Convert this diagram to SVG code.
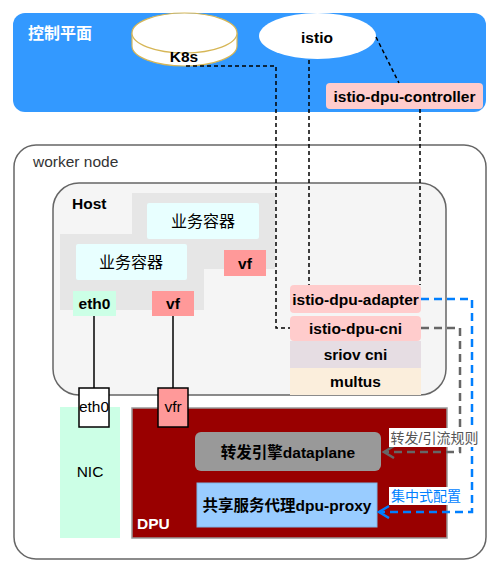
<svg xmlns="http://www.w3.org/2000/svg" width="500" height="573" viewBox="0 0 500 573">
<style>
text{font-family:"Liberation Sans","Noto Sans CJK SC",Arial,sans-serif;font-size:15.5px;text-anchor:middle;dominant-baseline:central;fill:#000}
.b{font-weight:bold}
.blk{fill:none;stroke:#000;stroke-width:1.5;stroke-dasharray:4 3}
.pink{fill:#FFCCCC}
.vf{fill:#FF9999}
</style>
<defs>
<marker id="ag" markerUnits="userSpaceOnUse" markerWidth="14" markerHeight="16" refX="11" refY="7" orient="auto" viewBox="0 0 14 16">
<path d="M1,1 L11,7 L1,13" fill="none" stroke="#666" stroke-width="2.5"/>
</marker>
<marker id="ab" markerUnits="userSpaceOnUse" markerWidth="14" markerHeight="16" refX="11" refY="7" orient="auto" viewBox="0 0 14 16">
<path d="M1,1 L11,7 L1,13" fill="none" stroke="#007FFF" stroke-width="2.5"/>
</marker>
</defs>
<rect width="500" height="573" fill="#fff"/>

<g id="control-plane">
<rect x="13" y="13" width="473" height="99" rx="12" fill="#3399FF"/>
<text x="28" y="33" class="b" style="text-anchor:start;fill:#fff;font-size:16px">控制平面</text>
</g>

<g id="worker-node">
<rect x="14" y="145" width="472" height="414" rx="22" fill="#fff" stroke="#666" stroke-width="1.5"/>
<text x="33" y="161" style="text-anchor:start;fill:#333">worker node</text>
</g>

<g id="host">
<rect x="53" y="183" width="393" height="212" rx="26" fill="#F5F5F5" stroke="#666" stroke-width="1.5"/>
<text x="72" y="203" class="b" style="text-anchor:start">Host</text>
</g>

<g id="pod-back">
<rect x="132" y="193" width="143" height="76" fill="#E6E6E6"/>
<rect x="60" y="234" width="144" height="76" fill="#E6E6E6"/>
</g>

<g id="container-1">
<rect x="147" y="203" width="112" height="36" rx="2" fill="#E8FFFF"/>
<text x="203" y="221" style="font-size:16px">业务容器</text>
</g>
<g id="container-2">
<rect x="76" y="244" width="111" height="36" rx="2" fill="#E8FFFF"/>
<text x="131" y="262" style="font-size:16px">业务容器</text>
</g>
<g id="vf-1">
<rect x="224" y="250" width="42" height="26" class="vf"/>
<text x="245" y="263" class="b">vf</text>
</g>
<g id="eth0-host">
<rect x="73" y="291" width="43" height="25" fill="#CCFFE6"/>
<text x="94.5" y="303.5" class="b">eth0</text>
</g>
<g id="vf-2">
<rect x="152" y="291" width="42" height="25" class="vf"/>
<text x="173" y="303.5" class="b">vf</text>
</g>

<g id="istio-dpu-adapter">
<rect x="290" y="285" width="131" height="28" rx="4" class="pink"/>
<text x="355.5" y="299" class="b">istio-dpu-adapter</text>
</g>
<g id="istio-dpu-cni">
<rect x="290" y="316" width="131" height="25" rx="4" class="pink"/>
<text x="355.5" y="328.5" class="b">istio-dpu-cni</text>
</g>
<g id="sriov-cni">
<rect x="290" y="341" width="131" height="27" fill="#E6DDE3"/>
<text x="355.5" y="354.5" class="b">sriov cni</text>
</g>
<g id="multus">
<rect x="290" y="368" width="131" height="27" fill="#FBEEDC"/>
<text x="355.5" y="381" class="b">multus</text>
</g>

<g id="nic">
<rect x="60" y="407" width="60" height="131" fill="#CCFFE6"/>
<text x="90" y="471">NIC</text>
</g>
<g id="dpu">
<rect x="132" y="408" width="315" height="130" fill="#990000" stroke="#999" stroke-width="1.5"/>
<text x="137" y="523" class="b" style="text-anchor:start;fill:#fff">DPU</text>
</g>
<g id="eth0-nic">
<rect x="79" y="388" width="30" height="39" fill="#fff" stroke="#000" stroke-width="1.5"/>
<text x="94" y="406">eth0</text>
</g>
<g id="vfr">
<rect x="158" y="388" width="30" height="39" class="vf" stroke="#000" stroke-width="1.5"/>
<text x="173" y="406">vfr</text>
</g>
<g id="dataplane">
<rect x="195" y="432" width="186" height="39" rx="6" fill="#999999"/>
<text x="288" y="452" class="b">转发引擎dataplane</text>
</g>
<g id="dpu-proxy">
<rect x="197" y="483" width="180" height="44" fill="#99CCFF" stroke="#7EB6E6" stroke-width="1"/>
<text x="287" y="505" class="b">共享服务代理dpu-proxy</text>
</g>

<g id="k8s">
<path d="M132,33 V46 A52.5,20 0 0 0 237,46 V33" fill="#fff" stroke="#D6B656" stroke-width="1.2"/>
<ellipse cx="184.5" cy="33" rx="52.5" ry="20" fill="#fff" stroke="#D6B656" stroke-width="1.2"/>
<text x="184" y="56" class="b">K8s</text>
</g>
<g id="istio">
<ellipse cx="317.5" cy="36" rx="58.5" ry="23" fill="#fff"/>
<text x="317" y="37" class="b">istio</text>
</g>
<g id="istio-dpu-controller">
<rect x="326" y="83" width="157" height="26" rx="4" class="pink"/>
<text x="404.5" y="96" class="b">istio-dpu-controller</text>
</g>

<g id="connectors">
<path d="M186,66 H276 V328 H290" class="blk"/>
<path d="M309,60 V285" class="blk"/>
<path d="M376,37 L399,83" class="blk"/>
<path d="M420,109 V285" class="blk"/>
<path d="M94,316 V388" stroke="#000" stroke-width="1.5" fill="none"/>
<path d="M173,316 V388" stroke="#000" stroke-width="1.5" fill="none"/>
<path d="M421,328 H460 V452 H384" fill="none" stroke="#666" stroke-width="2.5" stroke-dasharray="8 5" marker-end="url(#ag)"/>
<path d="M421,299 H472 V512 H379" fill="none" stroke="#007FFF" stroke-width="2.5" stroke-dasharray="8 5" marker-end="url(#ab)"/>
<rect x="389" y="428" width="91" height="19" fill="#fff"/>
<text x="434.5" y="437.5" style="font-size:14px;fill:#555">转发/引流规则</text>
<rect x="389" y="487" width="74" height="18" fill="#fff"/>
<text x="426" y="496" style="font-size:14px;fill:#007FFF">集中式配置</text>
</g>
</svg>
